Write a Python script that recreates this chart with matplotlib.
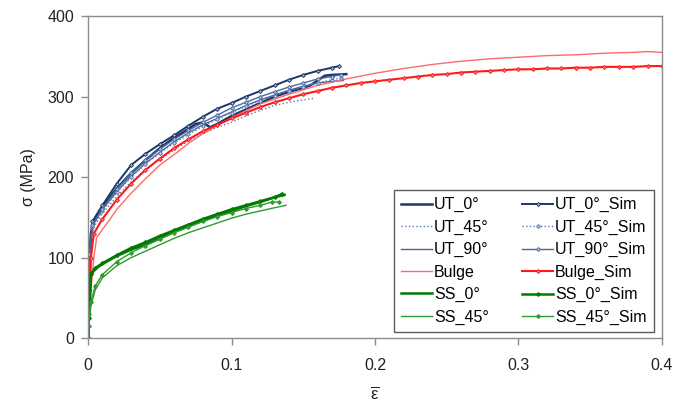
import matplotlib
matplotlib.use('Agg')
import matplotlib.pyplot as plt

plt.rcParams['font.family'] = ['Liberation Sans', 'DejaVu Sans']
plt.rcParams['mathtext.fontset'] = 'custom'
plt.rcParams['mathtext.rm'] = 'Liberation Sans'
plt.rcParams['mathtext.it'] = 'Liberation Sans'

# measured curves (true strain, true stress in MPa)
ut0_eps = [0, 0.001, 0.002, 0.004, 0.01, 0.02, 0.03, 0.04, 0.05, 0.06, 0.07, 0.075,
           0.08, 0.085, 0.09, 0.10, 0.11, 0.12, 0.13, 0.14, 0.15, 0.155, 0.16, 0.165, 0.17, 0.18]
ut0_sig = [0, 70, 130, 145, 163, 186, 205, 221, 236, 249, 260, 266,
           268, 262, 266, 276, 284, 292, 300, 306, 311, 314, 320, 326, 327, 328]

ut45_eps = [0, 0.001, 0.002, 0.004, 0.01, 0.02, 0.03, 0.04, 0.05, 0.06, 0.07, 0.08,
            0.09, 0.10, 0.11, 0.12, 0.13, 0.14, 0.15, 0.158]
ut45_sig = [0, 60, 120, 138, 155, 176, 194, 209, 222, 234, 245, 254,
            262, 268, 276, 283, 289, 293, 296, 298]

ut90_eps = [0, 0.001, 0.002, 0.004, 0.01, 0.02, 0.03, 0.04, 0.05, 0.06, 0.07, 0.08,
            0.09, 0.10, 0.11, 0.12, 0.13, 0.14, 0.15, 0.16, 0.17, 0.178]
ut90_sig = [0, 65, 125, 142, 160, 182, 201, 217, 231, 244, 255, 265,
            273, 281, 289, 296, 302, 308, 313, 317, 319, 320]

bulge_eps = [0, 0.002, 0.004, 0.006, 0.01, 0.015, 0.02, 0.03, 0.04, 0.05, 0.06, 0.07,
             0.08, 0.09, 0.10, 0.12, 0.14, 0.16, 0.18, 0.20, 0.22, 0.24, 0.26, 0.28,
             0.30, 0.32, 0.34, 0.36, 0.38, 0.39, 0.40]
bulge_sig = [0, 60, 100, 125, 135, 147, 160, 180, 198, 215, 228, 242,
             254, 264, 274, 291, 303, 314, 322, 329, 335, 340, 344, 347,
             349, 351, 352, 354, 355, 356, 355]

ss0_eps = [0, 0.001, 0.002, 0.005, 0.01, 0.02, 0.03, 0.04, 0.05, 0.06, 0.07, 0.08,
           0.09, 0.10, 0.11, 0.12, 0.13, 0.137]
ss0_sig = [0, 40, 78, 86, 92, 102, 110, 116, 124, 132, 139, 146,
           152, 158, 164, 169, 175, 178]

ss45_eps = [0, 0.001, 0.002, 0.005, 0.01, 0.02, 0.03, 0.04, 0.05, 0.06, 0.07, 0.08,
            0.09, 0.10, 0.11, 0.12, 0.13, 0.138]
ss45_sig = [0, 25, 40, 60, 75, 90, 100, 108, 116, 124, 131, 137,
            143, 149, 154, 158, 162, 165]

# simulated curves
ut0s_eps = [0, 0.0005, 0.001, 0.003, 0.01, 0.02, 0.03, 0.04, 0.05, 0.06, 0.07, 0.08,
            0.09, 0.10, 0.11, 0.12, 0.13, 0.14, 0.15, 0.16, 0.17, 0.175]
ut0s_sig = [0, 60, 110, 145, 165, 192, 215, 229, 241, 252, 264, 275,
            285, 292, 300, 307, 314, 321, 327, 332, 336, 338]

ut45s_eps = [0, 0.0005, 0.001, 0.003, 0.01, 0.02, 0.03, 0.04, 0.05, 0.06, 0.07, 0.08,
             0.09, 0.10, 0.11, 0.12, 0.13, 0.14, 0.15, 0.16, 0.17, 0.176]
ut45s_sig = [0, 55, 100, 138, 158, 181, 200, 216, 230, 242, 253, 263,
             272, 280, 288, 295, 301, 307, 312, 317, 321, 323]

ut90s_eps = [0, 0.0005, 0.001, 0.003, 0.01, 0.02, 0.03, 0.04, 0.05, 0.06, 0.07, 0.08,
             0.09, 0.10, 0.11, 0.12, 0.13, 0.14, 0.15, 0.16, 0.17, 0.176]
ut90s_sig = [0, 58, 105, 141, 161, 185, 205, 221, 235, 247, 258, 268,
             277, 286, 293, 300, 306, 312, 317, 322, 325, 327]

bulges_eps = [0, 0.002, 0.004, 0.01, 0.02, 0.03, 0.04, 0.05, 0.06, 0.07, 0.08, 0.09,
              0.10, 0.11, 0.12, 0.13, 0.14, 0.15, 0.16, 0.17, 0.18, 0.19, 0.20, 0.21,
              0.22, 0.23, 0.24, 0.25, 0.26, 0.27, 0.28, 0.29, 0.30, 0.31, 0.32, 0.33,
              0.34, 0.35, 0.36, 0.37, 0.38, 0.39, 0.40]
bulges_sig = [0, 100, 130, 148, 172, 192, 209, 223, 236, 247, 257, 265,
              273, 280, 287, 293, 298, 303, 307, 311, 314, 317, 319, 321,
              323, 325, 327, 328, 330, 331, 332, 333, 334, 334, 335, 335,
              336, 336, 337, 337, 337, 338, 338]

ss0s_eps = [0, 0.0005, 0.001, 0.002, 0.005, 0.01, 0.02, 0.03, 0.04, 0.05, 0.06, 0.07,
            0.08, 0.09, 0.10, 0.11, 0.12, 0.13, 0.135]
ss0s_sig = [0, 25, 50, 80, 87, 93, 103, 112, 119, 127, 134, 141,
            148, 154, 160, 165, 170, 175, 179]

ss45s_eps = [0, 0.0005, 0.001, 0.002, 0.005, 0.01, 0.02, 0.03, 0.04, 0.05, 0.06, 0.07,
             0.08, 0.09, 0.10, 0.11, 0.12, 0.128, 0.133]
ss45s_sig = [0, 15, 30, 45, 65, 79, 95, 106, 115, 123, 131, 138,
             145, 151, 156, 161, 165, 169, 169]

navy = '#1b3768'
blue45 = '#5a7bb5'
blue90 = '#4a6a9e'
red_exp = '#ff6a6a'
red_sim = '#ff1a1a'
green0 = '#007a00'
green45 = '#2f9a2f'

fig = plt.figure(figsize=(6.88, 4.04), dpi=100)
ax = fig.add_axes([0.128, 0.163, 0.834, 0.797])

ax.plot(ut0_eps, ut0_sig, color=navy, lw=1.8, label='UT_0°')
ax.plot(ut45_eps, ut45_sig, color=blue45, lw=1.0, ls=':', label='UT_45°')
ax.plot(ut90_eps, ut90_sig, color=blue90, lw=1.0, label='UT_90°')
ax.plot(bulge_eps, bulge_sig, color=red_exp, lw=1.0, label='Bulge')
ax.plot(ss0_eps, ss0_sig, color=green0, lw=1.8, label='SS_0°')
ax.plot(ss45_eps, ss45_sig, color=green45, lw=1.0, label='SS_45°')

mk = dict(marker='D', ms=2.0, mew=0.7)
ax.plot(ut0s_eps, ut0s_sig, color=navy, lw=1.4, mfc='#b7c4dc', mec=navy, label='UT_0°_Sim', **mk)
ax.plot(ut45s_eps, ut45s_sig, color=blue45, lw=1.0, ls=':', mfc='#c9d4e8', mec=blue45, label='UT_45°_Sim', **mk)
ax.plot(ut90s_eps, ut90s_sig, color=blue90, lw=1.0, mfc='#c0cce2', mec=blue90, label='UT_90°_Sim', **mk)
ax.plot(bulges_eps, bulges_sig, color=red_sim, lw=1.5, mfc='#ff8080', mec=red_sim, label='Bulge_Sim', **mk)
ax.plot(ss0s_eps, ss0s_sig, color=green0, lw=1.8, mfc=green0, mec=green0, label='SS_0°_Sim', **mk)
ax.plot(ss45s_eps, ss45s_sig, color=green45, lw=1.0, mfc=green45, mec=green45, label='SS_45°_Sim', **mk)

ax.set_xlim(0, 0.4)
ax.set_ylim(0, 400)
ax.set_xticks([0, 0.1, 0.2, 0.3, 0.4])
ax.set_xticklabels(['0', '0.1', '0.2', '0.3', '0.4'])
ax.set_yticks([0, 100, 200, 300, 400])

for s in ax.spines.values():
    s.set_color('#8c8c8c')
    s.set_linewidth(1.0)
ax.tick_params(direction='out', length=5, width=1, color='#8c8c8c',
               labelsize=11.5, labelcolor='#222222')
ax.tick_params(axis='x', pad=9)
ax.tick_params(axis='y', pad=5)

ax.set_ylabel('σ (MPa)', fontsize=11.5, color='#222222', labelpad=8)
ax.set_xlabel(r'$\overline{\mathrm{ε}}$', fontsize=12, color='#222222', labelpad=9)

leg = ax.legend(ncol=2, loc='lower right', bbox_to_anchor=(0.986, 0.019),
                borderaxespad=0, fontsize=11.5, frameon=True, fancybox=False,
                handlelength=1.9, handletextpad=0.15, columnspacing=2.1,
                labelspacing=0.46, borderpad=0.45)
leg.get_frame().set_edgecolor('#333333')
leg.get_frame().set_linewidth(1.0)

fig.savefig('out.png', dpi=100)
